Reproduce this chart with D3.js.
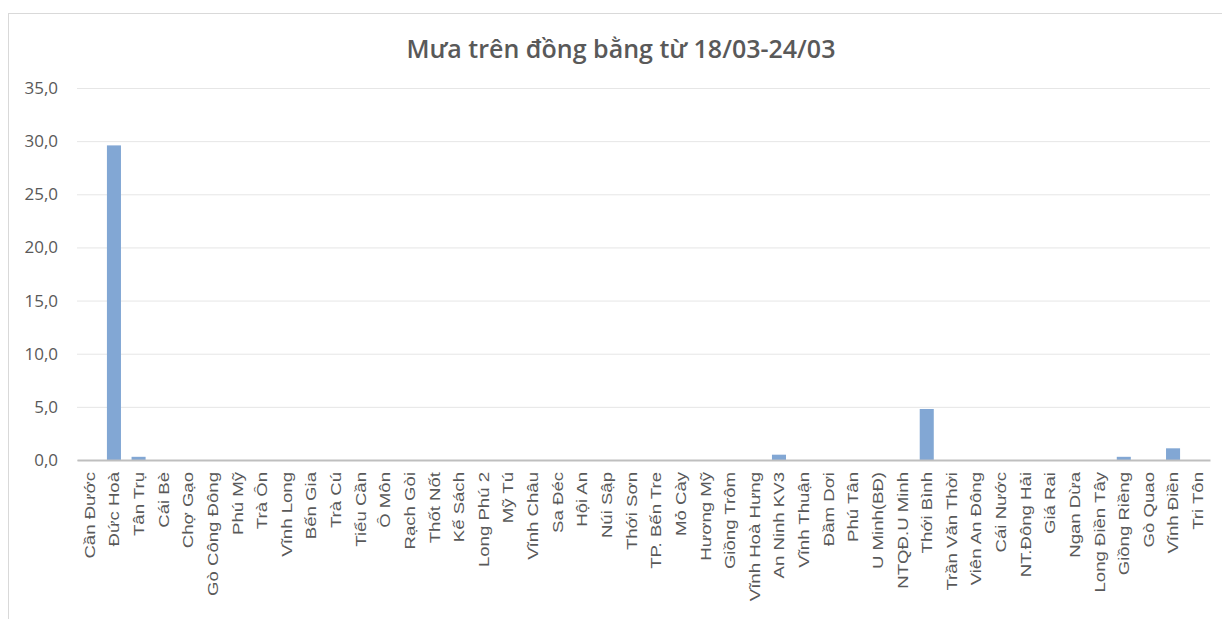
<!DOCTYPE html>
<html>
<head>
<meta charset="utf-8">
<script src="https://cdn.jsdelivr.net/npm/d3@7"></script>
<style>
  body { margin: 0; background: #fff; }
  svg { display: block; }
</style>
</head>
<body>
<div class="chart"></div>
<script>
var stations = ["Cần Đước", "Đức Hoà", "Tân Trụ", "Cái Bè", "Chợ Gạo", "Gò Công Đông", "Phú Mỹ", "Trà Ôn",
    "Vĩnh Long", "Bến Gia", "Trà Cú", "Tiểu Cần", "Ô Môn", "Rạch Gòi", "Thốt Nốt", "Kế Sách", "Long Phú 2",
    "Mỹ Tú", "Vĩnh Châu", "Sa Đéc", "Hội An", "Núi Sập", "Thới Sơn", "TP. Bến Tre", "Mỏ Cày", "Hương Mỹ",
    "Giồng Trôm", "Vĩnh Hoà Hưng", "An Ninh KV3", "Vĩnh Thuận", "Đầm Dơi", "Phú Tân", "U Minh(BĐ)",
    "NTQĐ.U Minh", "Thới Bình", "Trần Văn Thời", "Viên An Đông", "Cái Nước", "NT.Đông Hải", "Giá Rai",
    "Ngan Dừa", "Long Điền Tây", "Giồng Riềng", "Gò Quao", "Vĩnh Điền", "Tri Tôn"];
var rain = [0, 29.6, 0.3, 0, 0, 0, 0, 0,
    0, 0, 0, 0, 0, 0, 0, 0, 0,
    0, 0, 0, 0, 0, 0, 0, 0, 0,
    0, 0, 0.5, 0, 0, 0, 0,
    0, 4.8, 0, 0, 0, 0, 0,
    0, 0, 0.3, 0, 1.1, 0];
var yTicks = [0, 5, 10, 15, 20, 25, 30, 35];
var title = "Mưa trên đồng bằng từ 18/03-24/03";

var W = 1222, H = 619;
var margin = {top: 88, right: 12, bottom: 159, left: 77};
var width = W - margin.left - margin.right;
var height = H - margin.top - margin.bottom;

var svg = d3.select(".chart")
  .append("svg")
    .attr("width", W)
    .attr("height", H);

// chart frame
svg.append("rect")
    .attr("x", 8.5).attr("y", 13.5)
    .attr("width", W).attr("height", H)
    .attr("fill", "none")
    .attr("stroke", "#d9d9d9");

svg.append("text")
    .attr("x", 621).attr("y", 58)
    .attr("text-anchor", "middle")
    .style("font-family", "'Open Sans', sans-serif")
    .style("font-size", "25px")
    .style("font-weight", 600)
    .style("fill", "#595959")
    .text(title);

var g = svg.append("g")
    .attr("transform", "translate(" + margin.left + "," + margin.top + ")");

var x = d3.scaleBand()
    .domain(stations)
    .range([0, width])
    .paddingInner(0.43)
    .paddingOuter(0.215);

var y = d3.scaleLinear()
    .domain([0, 35])
    .range([height, 0]);

var fmt = function(d) { return d3.format(".1f")(d).replace(".", ","); };

// gridlines + y labels
var yAxis = g.append("g")
    .call(d3.axisLeft(y).tickValues(yTicks).tickSize(-width).tickFormat(fmt));
yAxis.select(".domain").remove();
yAxis.selectAll(".tick line")
    .attr("stroke", "#e6e6e6");
yAxis.selectAll(".tick text")
    .attr("x", -19)
    .style("font-family", "'Open Sans', sans-serif")
    .style("font-size", "17px")
    .style("fill", "#595959");

g.selectAll(".bar")
    .data(stations)
    .enter()
    .append("rect")
    .attr("class", "bar")
    .attr("x", function(d) { return x(d); })
    .attr("width", x.bandwidth())
    .attr("y", function(d, i) { return y(rain[i]); })
    .attr("height", function(d, i) { return height - y(rain[i]); })
    .attr("fill", "#82a7d4");

var xAxis = g.append("g")
    .attr("transform", "translate(0," + height + ")")
    .call(d3.axisBottom(x).tickSize(0));
xAxis.select(".domain")
    .attr("stroke", "#bfbfbf")
    .attr("stroke-width", 2);
// labels stretched along the text to match the source's tall lettering
xAxis.selectAll(".tick text")
    .attr("transform", "rotate(-90) scale(1.2,1)")
    .attr("text-anchor", "end")
    .attr("x", -10)
    .attr("y", 0)
    .attr("dy", "0.35em")
    .style("font-family", "'Liberation Sans', Arial, sans-serif")
    .style("font-size", "15.5px")
    .style("fill", "#595959");
</script>
</body>
</html>
